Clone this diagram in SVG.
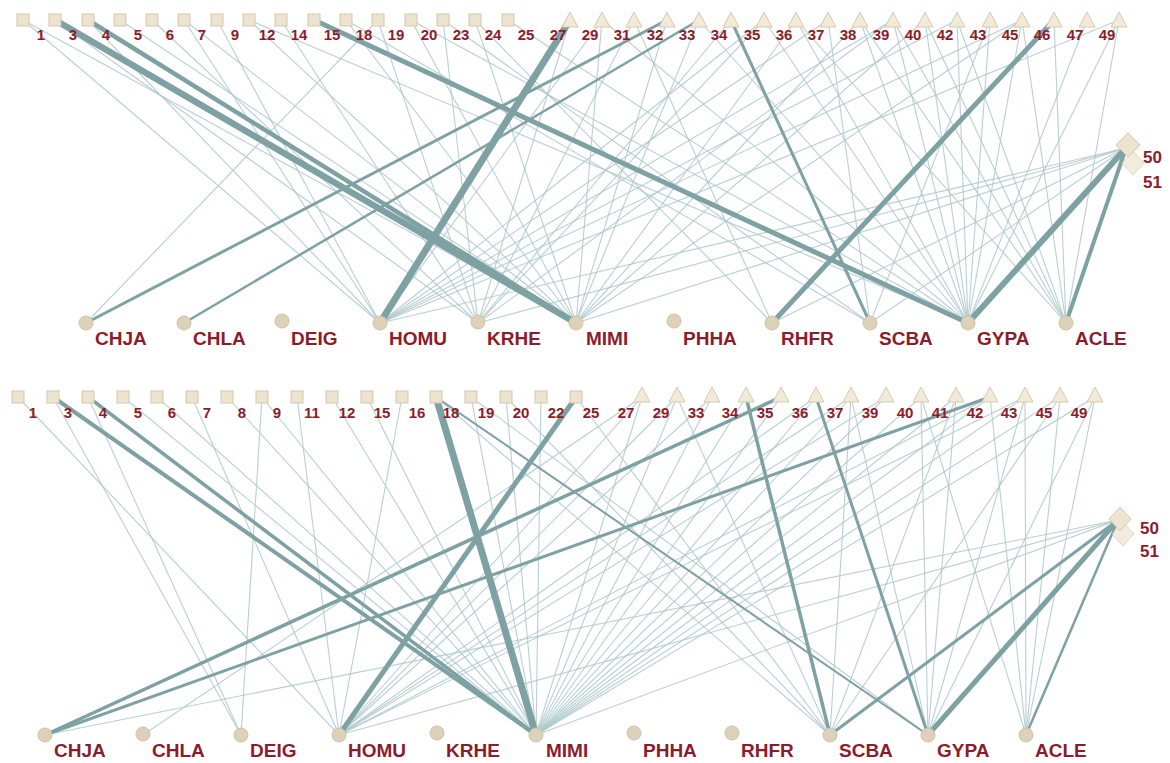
<svg xmlns="http://www.w3.org/2000/svg" width="1170" height="763" viewBox="0 0 1170 763">
<style>
.bg{fill:#ffffff}
.lt{stroke:#adc7ca;stroke-width:1.1;opacity:.85;fill:none}
.lm{stroke:#7ea1a4;fill:none}
.sq{fill:#ece3d0;stroke:#d6c8a8;stroke-width:1}
.tr{fill:#f1ead8;stroke:#d8cba9;stroke-width:1}
.dm{fill:#ece4d0;stroke:#d6c9a8;stroke-width:1}
.ci{fill:#ddd1b9;stroke:#cfc2a3;stroke-width:1}
.num{font-family:"Liberation Sans",Arial,sans-serif;font-weight:bold;font-size:15px;fill:#8c1c2b;text-anchor:middle}
.sp{font-family:"Liberation Sans",Arial,sans-serif;font-weight:bold;font-size:19px;fill:#8c1c2b}
.side{font-family:"Liberation Sans",Arial,sans-serif;font-weight:bold;font-size:17px;fill:#8c1c2b}
</style>
<rect class="bg" x="0" y="0" width="1170" height="763"/>

<g id="connectors">
<g id="links-top">
<line class="lt" x1="23" y1="20" x2="380" y2="323"/>
<line class="lt" x1="23" y1="20" x2="576" y2="323"/>
<line class="lt" x1="55" y1="20" x2="478" y2="323"/>
<line class="lt" x1="88" y1="20" x2="380" y2="323"/>
<line class="lt" x1="120" y1="20" x2="576" y2="323"/>
<line class="lt" x1="152" y1="20" x2="478" y2="323"/>
<line class="lt" x1="184" y1="20" x2="380" y2="323"/>
<line class="lt" x1="184" y1="20" x2="576" y2="323"/>
<line class="lt" x1="217" y1="20" x2="380" y2="323"/>
<line class="lt" x1="249" y1="20" x2="968" y2="323"/>
<line class="lt" x1="249" y1="20" x2="576" y2="323"/>
<line class="lt" x1="281" y1="20" x2="478" y2="323"/>
<line class="lt" x1="346" y1="20" x2="576" y2="323"/>
<line class="lt" x1="346" y1="20" x2="870" y2="323"/>
<line class="lt" x1="378" y1="20" x2="478" y2="323"/>
<line class="lt" x1="378" y1="20" x2="86" y2="323"/>
<line class="lt" x1="411" y1="20" x2="576" y2="323"/>
<line class="lt" x1="411" y1="20" x2="968" y2="323"/>
<line class="lt" x1="443" y1="20" x2="870" y2="323"/>
<line class="lt" x1="443" y1="20" x2="478" y2="323"/>
<line class="lt" x1="475" y1="20" x2="772" y2="323"/>
<line class="lt" x1="475" y1="20" x2="576" y2="323"/>
<line class="lt" x1="508" y1="20" x2="968" y2="323"/>
<line class="lt" x1="570" y1="20" x2="478" y2="323"/>
<line class="lt" x1="602" y1="20" x2="576" y2="323"/>
<line class="lt" x1="602" y1="20" x2="380" y2="323"/>
<line class="lt" x1="602" y1="20" x2="968" y2="323"/>
<line class="lt" x1="634" y1="20" x2="772" y2="323"/>
<line class="lt" x1="634" y1="20" x2="478" y2="323"/>
<line class="lt" x1="667" y1="20" x2="576" y2="323"/>
<line class="lt" x1="699" y1="20" x2="968" y2="323"/>
<line class="lt" x1="699" y1="20" x2="576" y2="323"/>
<line class="lt" x1="731" y1="20" x2="478" y2="323"/>
<line class="lt" x1="764" y1="20" x2="380" y2="323"/>
<line class="lt" x1="764" y1="20" x2="968" y2="323"/>
<line class="lt" x1="764" y1="20" x2="478" y2="323"/>
<line class="lt" x1="796" y1="20" x2="576" y2="323"/>
<line class="lt" x1="796" y1="20" x2="1066" y2="323"/>
<line class="lt" x1="796" y1="20" x2="968" y2="323"/>
<line class="lt" x1="828" y1="20" x2="870" y2="323"/>
<line class="lt" x1="828" y1="20" x2="380" y2="323"/>
<line class="lt" x1="860" y1="20" x2="576" y2="323"/>
<line class="lt" x1="860" y1="20" x2="968" y2="323"/>
<line class="lt" x1="860" y1="20" x2="1066" y2="323"/>
<line class="lt" x1="893" y1="20" x2="478" y2="323"/>
<line class="lt" x1="893" y1="20" x2="1066" y2="323"/>
<line class="lt" x1="893" y1="20" x2="968" y2="323"/>
<line class="lt" x1="893" y1="20" x2="380" y2="323"/>
<line class="lt" x1="925" y1="20" x2="968" y2="323"/>
<line class="lt" x1="925" y1="20" x2="576" y2="323"/>
<line class="lt" x1="925" y1="20" x2="1066" y2="323"/>
<line class="lt" x1="957" y1="20" x2="380" y2="323"/>
<line class="lt" x1="957" y1="20" x2="1066" y2="323"/>
<line class="lt" x1="957" y1="20" x2="968" y2="323"/>
<line class="lt" x1="990" y1="20" x2="968" y2="323"/>
<line class="lt" x1="990" y1="20" x2="870" y2="323"/>
<line class="lt" x1="1022" y1="20" x2="576" y2="323"/>
<line class="lt" x1="1022" y1="20" x2="1066" y2="323"/>
<line class="lt" x1="1022" y1="20" x2="968" y2="323"/>
<line class="lt" x1="1022" y1="20" x2="380" y2="323"/>
<line class="lt" x1="1054" y1="20" x2="1066" y2="323"/>
<line class="lt" x1="1087" y1="20" x2="968" y2="323"/>
<line class="lt" x1="1119" y1="20" x2="1066" y2="323"/>
<line class="lt" x1="1119" y1="20" x2="380" y2="323"/>
<line class="lt" x1="1119" y1="20" x2="968" y2="323"/>
<line class="lt" x1="1126" y1="148" x2="380" y2="323"/>
<line class="lt" x1="1126" y1="148" x2="576" y2="323"/>
<line class="lt" x1="1126" y1="148" x2="478" y2="323"/>
<line class="lt" x1="1126" y1="148" x2="870" y2="323"/>
<line class="lt" x1="1126" y1="148" x2="772" y2="323"/>
<line class="lm" stroke-width="2.5" x1="699" y1="20" x2="184" y2="323"/>
<line class="lm" stroke-width="3" x1="667" y1="20" x2="86" y2="323"/>
<line class="lm" stroke-width="3" x1="731" y1="20" x2="870" y2="323"/>
<line class="lm" stroke-width="4.5" x1="88" y1="20" x2="576" y2="323"/>
<line class="lm" stroke-width="4" x1="1126" y1="148" x2="1066" y2="323"/>
<line class="lm" stroke-width="5" x1="314" y1="20" x2="968" y2="323"/>
<line class="lm" stroke-width="5" x1="1054" y1="20" x2="772" y2="323"/>
<line class="lm" stroke-width="6" x1="1126" y1="148" x2="968" y2="323"/>
<line class="lm" stroke-width="6.5" x1="55" y1="20" x2="576" y2="323"/>
<line class="lm" stroke-width="7" x1="570" y1="20" x2="380" y2="323"/>
</g>
<g id="links-bottom">
<line class="lt" x1="18" y1="397" x2="339" y2="735"/>
<line class="lt" x1="88" y1="397" x2="241" y2="735"/>
<line class="lt" x1="53" y1="397" x2="241" y2="735"/>
<line class="lt" x1="123" y1="397" x2="536" y2="735"/>
<line class="lt" x1="157" y1="397" x2="536" y2="735"/>
<line class="lt" x1="192" y1="397" x2="339" y2="735"/>
<line class="lt" x1="227" y1="397" x2="536" y2="735"/>
<line class="lt" x1="262" y1="397" x2="536" y2="735"/>
<line class="lt" x1="262" y1="397" x2="241" y2="735"/>
<line class="lt" x1="297" y1="397" x2="339" y2="735"/>
<line class="lt" x1="332" y1="397" x2="536" y2="735"/>
<line class="lt" x1="367" y1="397" x2="536" y2="735"/>
<line class="lt" x1="402" y1="397" x2="339" y2="735"/>
<line class="lt" x1="471" y1="397" x2="536" y2="735"/>
<line class="lt" x1="471" y1="397" x2="928" y2="735"/>
<line class="lt" x1="506" y1="397" x2="536" y2="735"/>
<line class="lt" x1="506" y1="397" x2="830" y2="735"/>
<line class="lt" x1="541" y1="397" x2="536" y2="735"/>
<line class="lt" x1="576" y1="397" x2="830" y2="735"/>
<line class="lt" x1="642" y1="397" x2="536" y2="735"/>
<line class="lt" x1="642" y1="397" x2="143" y2="735"/>
<line class="lt" x1="642" y1="397" x2="339" y2="735"/>
<line class="lt" x1="677" y1="397" x2="536" y2="735"/>
<line class="lt" x1="677" y1="397" x2="339" y2="735"/>
<line class="lt" x1="677" y1="397" x2="830" y2="735"/>
<line class="lt" x1="712" y1="397" x2="536" y2="735"/>
<line class="lt" x1="712" y1="397" x2="339" y2="735"/>
<line class="lt" x1="746" y1="397" x2="536" y2="735"/>
<line class="lt" x1="781" y1="397" x2="536" y2="735"/>
<line class="lt" x1="816" y1="397" x2="339" y2="735"/>
<line class="lt" x1="816" y1="397" x2="536" y2="735"/>
<line class="lt" x1="851" y1="397" x2="536" y2="735"/>
<line class="lt" x1="851" y1="397" x2="928" y2="735"/>
<line class="lt" x1="851" y1="397" x2="339" y2="735"/>
<line class="lt" x1="851" y1="397" x2="830" y2="735"/>
<line class="lt" x1="886" y1="397" x2="536" y2="735"/>
<line class="lt" x1="886" y1="397" x2="339" y2="735"/>
<line class="lt" x1="921" y1="397" x2="536" y2="735"/>
<line class="lt" x1="921" y1="397" x2="1026" y2="735"/>
<line class="lt" x1="921" y1="397" x2="928" y2="735"/>
<line class="lt" x1="956" y1="397" x2="536" y2="735"/>
<line class="lt" x1="956" y1="397" x2="830" y2="735"/>
<line class="lt" x1="956" y1="397" x2="928" y2="735"/>
<line class="lt" x1="990" y1="397" x2="339" y2="735"/>
<line class="lt" x1="990" y1="397" x2="536" y2="735"/>
<line class="lt" x1="990" y1="397" x2="1026" y2="735"/>
<line class="lt" x1="1025" y1="397" x2="536" y2="735"/>
<line class="lt" x1="1025" y1="397" x2="928" y2="735"/>
<line class="lt" x1="1025" y1="397" x2="339" y2="735"/>
<line class="lt" x1="1025" y1="397" x2="1026" y2="735"/>
<line class="lt" x1="1060" y1="397" x2="1026" y2="735"/>
<line class="lt" x1="1060" y1="397" x2="536" y2="735"/>
<line class="lt" x1="1060" y1="397" x2="830" y2="735"/>
<line class="lt" x1="1095" y1="397" x2="1026" y2="735"/>
<line class="lt" x1="1095" y1="397" x2="928" y2="735"/>
<line class="lt" x1="1095" y1="397" x2="536" y2="735"/>
<line class="lt" x1="1118" y1="520" x2="339" y2="735"/>
<line class="lt" x1="1118" y1="520" x2="536" y2="735"/>
<line class="lt" x1="1118" y1="520" x2="45" y2="735"/>
<line class="lt" stroke-width="1.6" x1="436" y1="397" x2="830" y2="735"/>
<line class="lm" stroke-width="2" x1="436" y1="397" x2="928" y2="735"/>
<line class="lm" stroke-width="2.5" x1="1118" y1="520" x2="1026" y2="735"/>
<line class="lm" stroke-width="3" x1="1118" y1="520" x2="830" y2="735"/>
<line class="lm" stroke-width="3" x1="816" y1="397" x2="928" y2="735"/>
<line class="lm" stroke-width="3.5" x1="746" y1="397" x2="830" y2="735"/>
<line class="lm" stroke-width="3" x1="990" y1="397" x2="45" y2="735"/>
<line class="lm" stroke-width="3.5" x1="781" y1="397" x2="45" y2="735"/>
<line class="lm" stroke-width="3.5" x1="88" y1="397" x2="536" y2="735"/>
<line class="lm" stroke-width="4" x1="53" y1="397" x2="536" y2="735"/>
<line class="lm" stroke-width="5" x1="1118" y1="520" x2="928" y2="735"/>
<line class="lm" stroke-width="5" x1="576" y1="397" x2="339" y2="735"/>
<line class="lm" stroke-width="7" x1="436" y1="397" x2="536" y2="735"/>
</g>
</g>

<g id="top-upper-nodes">
<g id="t-n1"><rect class="sq" x="17" y="14" width="12" height="12"/><text class="num" x="41" y="40">1</text></g>
<g id="t-n3"><rect class="sq" x="49" y="14" width="12" height="12"/><text class="num" x="73" y="40">3</text></g>
<g id="t-n4"><rect class="sq" x="82" y="14" width="12" height="12"/><text class="num" x="106" y="40">4</text></g>
<g id="t-n5"><rect class="sq" x="114" y="14" width="12" height="12"/><text class="num" x="138" y="40">5</text></g>
<g id="t-n6"><rect class="sq" x="146" y="14" width="12" height="12"/><text class="num" x="170" y="40">6</text></g>
<g id="t-n7"><rect class="sq" x="178" y="14" width="12" height="12"/><text class="num" x="202" y="40">7</text></g>
<g id="t-n9"><rect class="sq" x="211" y="14" width="12" height="12"/><text class="num" x="235" y="40">9</text></g>
<g id="t-n12"><rect class="sq" x="243" y="14" width="12" height="12"/><text class="num" x="267" y="40">12</text></g>
<g id="t-n14"><rect class="sq" x="275" y="14" width="12" height="12"/><text class="num" x="299" y="40">14</text></g>
<g id="t-n15"><rect class="sq" x="308" y="14" width="12" height="12"/><text class="num" x="332" y="40">15</text></g>
<g id="t-n18"><rect class="sq" x="340" y="14" width="12" height="12"/><text class="num" x="364" y="40">18</text></g>
<g id="t-n19"><rect class="sq" x="372" y="14" width="12" height="12"/><text class="num" x="396" y="40">19</text></g>
<g id="t-n20"><rect class="sq" x="405" y="14" width="12" height="12"/><text class="num" x="429" y="40">20</text></g>
<g id="t-n23"><rect class="sq" x="437" y="14" width="12" height="12"/><text class="num" x="461" y="40">23</text></g>
<g id="t-n24"><rect class="sq" x="469" y="14" width="12" height="12"/><text class="num" x="493" y="40">24</text></g>
<g id="t-n25"><rect class="sq" x="502" y="14" width="12" height="12"/><text class="num" x="526" y="40">25</text></g>
<g id="t-n27"><polygon class="tr" points="570,12 562,27 578,27"/><text class="num" x="558" y="40">27</text></g>
<g id="t-n29"><polygon class="tr" points="602,12 594,27 610,27"/><text class="num" x="590" y="40">29</text></g>
<g id="t-n31"><polygon class="tr" points="634,12 626,27 642,27"/><text class="num" x="622" y="40">31</text></g>
<g id="t-n32"><polygon class="tr" points="667,12 659,27 675,27"/><text class="num" x="655" y="40">32</text></g>
<g id="t-n33"><polygon class="tr" points="699,12 691,27 707,27"/><text class="num" x="687" y="40">33</text></g>
<g id="t-n34"><polygon class="tr" points="731,12 723,27 739,27"/><text class="num" x="719" y="40">34</text></g>
<g id="t-n35"><polygon class="tr" points="764,12 756,27 772,27"/><text class="num" x="752" y="40">35</text></g>
<g id="t-n36"><polygon class="tr" points="796,12 788,27 804,27"/><text class="num" x="784" y="40">36</text></g>
<g id="t-n37"><polygon class="tr" points="828,12 820,27 836,27"/><text class="num" x="816" y="40">37</text></g>
<g id="t-n38"><polygon class="tr" points="860,12 852,27 868,27"/><text class="num" x="848" y="40">38</text></g>
<g id="t-n39"><polygon class="tr" points="893,12 885,27 901,27"/><text class="num" x="881" y="40">39</text></g>
<g id="t-n40"><polygon class="tr" points="925,12 917,27 933,27"/><text class="num" x="913" y="40">40</text></g>
<g id="t-n42"><polygon class="tr" points="957,12 949,27 965,27"/><text class="num" x="945" y="40">42</text></g>
<g id="t-n43"><polygon class="tr" points="990,12 982,27 998,27"/><text class="num" x="978" y="40">43</text></g>
<g id="t-n45"><polygon class="tr" points="1022,12 1014,27 1030,27"/><text class="num" x="1010" y="40">45</text></g>
<g id="t-n46"><polygon class="tr" points="1054,12 1046,27 1062,27"/><text class="num" x="1042" y="40">46</text></g>
<g id="t-n47"><polygon class="tr" points="1087,12 1079,27 1095,27"/><text class="num" x="1075" y="40">47</text></g>
<g id="t-n49"><polygon class="tr" points="1119,12 1111,27 1127,27"/><text class="num" x="1107" y="40">49</text></g>
<g id="t-n51"><polygon class="dm" opacity="0.7" points="1133,151 1144,163 1133,175 1122,163"/><text class="side" x="1143" y="188">51</text></g>
<g id="t-n50"><polygon class="dm" points="1128,133 1140,145 1128,157 1116,145"/><text class="side" x="1143" y="163">50</text></g>
</g>

<g id="top-lower-nodes">
<g id="t-CHJA"><circle class="ci" cx="86" cy="323" r="7"/><text class="sp" x="95" y="345">CHJA</text></g>
<g id="t-CHLA"><circle class="ci" cx="184" cy="323" r="7"/><text class="sp" x="193" y="345">CHLA</text></g>
<g id="t-DEIG"><circle class="ci" cx="282" cy="321" r="7"/><text class="sp" x="291" y="345">DEIG</text></g>
<g id="t-HOMU"><circle class="ci" cx="380" cy="323" r="7"/><text class="sp" x="389" y="345">HOMU</text></g>
<g id="t-KRHE"><circle class="ci" cx="478" cy="322" r="7"/><text class="sp" x="487" y="345">KRHE</text></g>
<g id="t-MIMI"><circle class="ci" cx="576" cy="323" r="7"/><text class="sp" x="586" y="345">MIMI</text></g>
<g id="t-PHHA"><circle class="ci" cx="674" cy="321" r="7"/><text class="sp" x="683" y="345">PHHA</text></g>
<g id="t-RHFR"><circle class="ci" cx="772" cy="323" r="7"/><text class="sp" x="781" y="345">RHFR</text></g>
<g id="t-SCBA"><circle class="ci" cx="870" cy="323" r="7"/><text class="sp" x="879" y="345">SCBA</text></g>
<g id="t-GYPA"><circle class="ci" cx="968" cy="323" r="7"/><text class="sp" x="977" y="345">GYPA</text></g>
<g id="t-ACLE"><circle class="ci" cx="1066" cy="323" r="7"/><text class="sp" x="1075" y="345">ACLE</text></g>
</g>

<g id="bottom-upper-nodes">
<g id="b-n1"><rect class="sq" x="12" y="391" width="12" height="12"/><text class="num" x="33" y="418">1</text></g>
<g id="b-n3"><rect class="sq" x="47" y="391" width="12" height="12"/><text class="num" x="68" y="418">3</text></g>
<g id="b-n4"><rect class="sq" x="82" y="391" width="12" height="12"/><text class="num" x="103" y="418">4</text></g>
<g id="b-n5"><rect class="sq" x="117" y="391" width="12" height="12"/><text class="num" x="138" y="418">5</text></g>
<g id="b-n6"><rect class="sq" x="151" y="391" width="12" height="12"/><text class="num" x="172" y="418">6</text></g>
<g id="b-n7"><rect class="sq" x="186" y="391" width="12" height="12"/><text class="num" x="207" y="418">7</text></g>
<g id="b-n8"><rect class="sq" x="221" y="391" width="12" height="12"/><text class="num" x="242" y="418">8</text></g>
<g id="b-n9"><rect class="sq" x="256" y="391" width="12" height="12"/><text class="num" x="277" y="418">9</text></g>
<g id="b-n11"><rect class="sq" x="291" y="391" width="12" height="12"/><text class="num" x="312" y="418">11</text></g>
<g id="b-n12"><rect class="sq" x="326" y="391" width="12" height="12"/><text class="num" x="347" y="418">12</text></g>
<g id="b-n15"><rect class="sq" x="361" y="391" width="12" height="12"/><text class="num" x="382" y="418">15</text></g>
<g id="b-n16"><rect class="sq" x="396" y="391" width="12" height="12"/><text class="num" x="417" y="418">16</text></g>
<g id="b-n18"><rect class="sq" x="430" y="391" width="12" height="12"/><text class="num" x="451" y="418">18</text></g>
<g id="b-n19"><rect class="sq" x="465" y="391" width="12" height="12"/><text class="num" x="486" y="418">19</text></g>
<g id="b-n20"><rect class="sq" x="500" y="391" width="12" height="12"/><text class="num" x="521" y="418">20</text></g>
<g id="b-n22"><rect class="sq" x="535" y="391" width="12" height="12"/><text class="num" x="556" y="418">22</text></g>
<g id="b-n25"><rect class="sq" x="570" y="391" width="12" height="12"/><text class="num" x="591" y="418">25</text></g>
<g id="b-n27"><polygon class="tr" points="642,387 634,402 650,402"/><text class="num" x="626" y="418">27</text></g>
<g id="b-n29"><polygon class="tr" points="677,387 669,402 685,402"/><text class="num" x="661" y="418">29</text></g>
<g id="b-n33"><polygon class="tr" points="712,387 704,402 720,402"/><text class="num" x="696" y="418">33</text></g>
<g id="b-n34"><polygon class="tr" points="746,387 738,402 754,402"/><text class="num" x="730" y="418">34</text></g>
<g id="b-n35"><polygon class="tr" points="781,387 773,402 789,402"/><text class="num" x="765" y="418">35</text></g>
<g id="b-n36"><polygon class="tr" points="816,387 808,402 824,402"/><text class="num" x="800" y="418">36</text></g>
<g id="b-n37"><polygon class="tr" points="851,387 843,402 859,402"/><text class="num" x="835" y="418">37</text></g>
<g id="b-n39"><polygon class="tr" points="886,387 878,402 894,402"/><text class="num" x="870" y="418">39</text></g>
<g id="b-n40"><polygon class="tr" points="921,387 913,402 929,402"/><text class="num" x="905" y="418">40</text></g>
<g id="b-n41"><polygon class="tr" points="956,387 948,402 964,402"/><text class="num" x="940" y="418">41</text></g>
<g id="b-n42"><polygon class="tr" points="990,387 982,402 998,402"/><text class="num" x="975" y="418">42</text></g>
<g id="b-n43"><polygon class="tr" points="1025,387 1017,402 1033,402"/><text class="num" x="1009" y="418">43</text></g>
<g id="b-n45"><polygon class="tr" points="1060,387 1052,402 1068,402"/><text class="num" x="1044" y="418">45</text></g>
<g id="b-n49"><polygon class="tr" points="1095,387 1087,402 1103,402"/><text class="num" x="1079" y="418">49</text></g>
<g id="b-n51"><polygon class="dm" opacity="0.7" points="1123,522 1134,534 1123,546 1112,534"/><text class="side" x="1140" y="557">51</text></g>
<g id="b-n50"><polygon class="dm" points="1120,507 1131,519 1120,531 1109,519"/><text class="side" x="1140" y="534">50</text></g>
</g>

<g id="bottom-lower-nodes">
<g id="b-CHJA"><circle class="ci" cx="45" cy="735" r="7"/><text class="sp" x="54" y="757">CHJA</text></g>
<g id="b-CHLA"><circle class="ci" cx="143" cy="734" r="7"/><text class="sp" x="152" y="757">CHLA</text></g>
<g id="b-DEIG"><circle class="ci" cx="241" cy="735" r="7"/><text class="sp" x="250" y="757">DEIG</text></g>
<g id="b-HOMU"><circle class="ci" cx="339" cy="735" r="7"/><text class="sp" x="348" y="757">HOMU</text></g>
<g id="b-KRHE"><circle class="ci" cx="437" cy="733" r="7"/><text class="sp" x="446" y="757">KRHE</text></g>
<g id="b-MIMI"><circle class="ci" cx="536" cy="735" r="7"/><text class="sp" x="546" y="757">MIMI</text></g>
<g id="b-PHHA"><circle class="ci" cx="634" cy="733" r="7"/><text class="sp" x="643" y="757">PHHA</text></g>
<g id="b-RHFR"><circle class="ci" cx="732" cy="733" r="7"/><text class="sp" x="741" y="757">RHFR</text></g>
<g id="b-SCBA"><circle class="ci" cx="830" cy="735" r="7"/><text class="sp" x="839" y="757">SCBA</text></g>
<g id="b-GYPA"><circle class="ci" cx="928" cy="735" r="7"/><text class="sp" x="937" y="757">GYPA</text></g>
<g id="b-ACLE"><circle class="ci" cx="1026" cy="735" r="7"/><text class="sp" x="1035" y="757">ACLE</text></g>
</g>
</svg>
